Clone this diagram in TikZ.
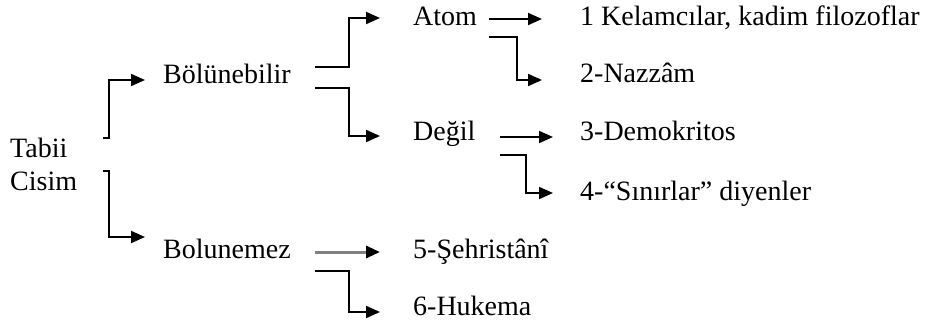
\documentclass[tikz,border=0pt]{standalone}
\usepackage{fontspec}
\setmainfont{Liberation Serif}
\usetikzlibrary{arrows.meta}
\begin{document}
\begin{tikzpicture}[x=1pt,y=-1pt,
  lbl/.style={anchor=base west, inner sep=0pt, font=\fontsize{28}{34}\selectfont},
  conn/.style={draw=black, line width=2pt, -{Triangle[length=14pt,width=12pt]}},
  grayconn/.style={draw=black!50, line width=3pt, -{Triangle[length=14pt,width=12pt,color=black]}}]
\useasboundingbox (0,0) rectangle (930,324);
\node[lbl] (tabii) at (10,157) {Tabii};
\node[lbl] (cisim) at (10,190) {Cisim};
\node[lbl] (bol) at (163,83) {Bölünebilir};
\node[lbl] (bolu) at (163,258) {Bolunemez};
\node[lbl] (atom) at (413,25) {Atom};
\node[lbl] (degil) at (413,140) {Değil};
\node[lbl] (n1) at (580,25) {1 Kelamcılar, kadim filozoflar};
\node[lbl] (n2) at (580,82) {2-Nazzâm};
\node[lbl] (n3) at (580,140) {3-Demokritos};
\node[lbl] (n4) at (580,200) {4-“Sınırlar” diyenler};
\node[lbl] (n5) at (413,258) {5-Şehristânî};
\node[lbl] (n6) at (413,315) {6-Hukema};
\draw[conn] ([shift={(93,-19)}]tabii.base west) -- ++(6,0) |- ([shift={(-18,-3)}]bol.base west);
\draw[conn] ([shift={(93,-19)}]cisim.base west) -- ++(6,0) |- ([shift={(-18,-21)}]bolu.base west);
\draw[conn] ([shift={(152,-16)}]bol.base west) -- ++(34,0) |- ([shift={(-33,-7)}]atom.base west);
\draw[conn] ([shift={(152,5)}]bol.base west) -- ++(34,0) |- ([shift={(-33,-4)}]degil.base west);
\draw[conn] ([shift={(76,-6)}]atom.base west) -- ([shift={(-38,-6)}]n1.base west);
\draw[conn] ([shift={(76,12)}]atom.base west) -- ++(28,0) |- ([shift={(-38,-2)}]n2.base west);
\draw[conn] ([shift={(87,-3)}]degil.base west) -- ([shift={(-27,-3)}]n3.base west);
\draw[conn] ([shift={(87,15)}]degil.base west) -- ++(26,0) |- ([shift={(-27,-7)}]n4.base west);
\draw[grayconn] ([shift={(152,-6)}]bolu.base west) -- ([shift={(-33,-6)}]n5.base west);
\draw[conn] ([shift={(152,13)}]bolu.base west) -- ++(34,0) |- ([shift={(-33,-3)}]n6.base west);
\end{tikzpicture}
\end{document}
